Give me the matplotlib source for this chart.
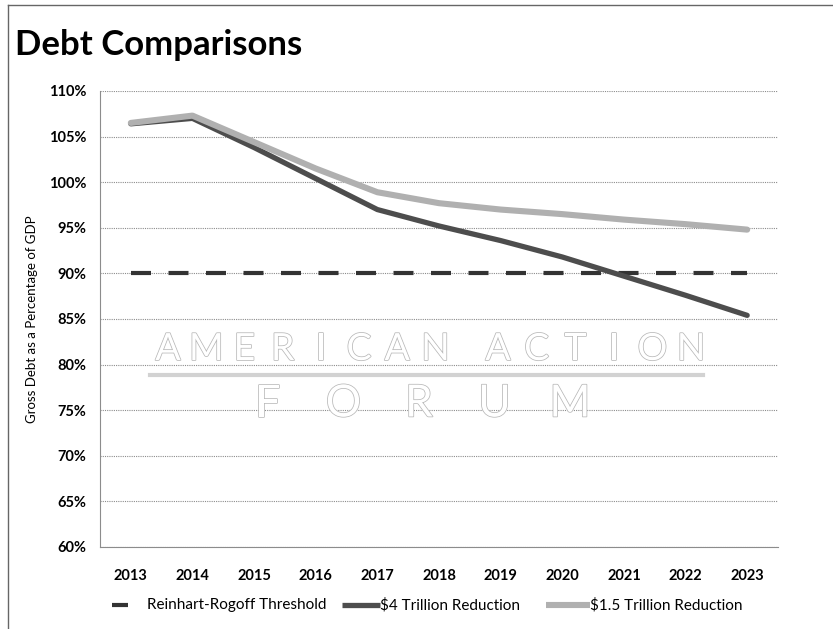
import matplotlib
matplotlib.use("Agg")
import matplotlib.pyplot as plt
from matplotlib.lines import Line2D
import matplotlib.patheffects as pe

plt.rcParams['font.family'] = ['Lato', 'DejaVu Sans']

# data
years = ['2013', '2014', '2015', '2016', '2017', '2018', '2019', '2020', '2021', '2022', '2023']
threshold = [90] * len(years)
cut_4t = [106.4, 107.0, 103.8, 100.4, 97.0, 95.2, 93.6, 91.8, 89.7, 87.6, 85.4]
cut_15t = [106.5, 107.3, 104.4, 101.5, 98.9, 97.7, 97.0, 96.5, 95.9, 95.4, 94.8]
yticks = [60, 65, 70, 75, 80, 85, 90, 95, 100, 105, 110]

W, H = 833, 629
fig = plt.figure(figsize=(W / 100, H / 100), dpi=100)
ax = fig.add_axes([100 / W, 1 - 547 / H, 678 / W, 456 / H])

x = list(range(len(years)))
ax.plot(x, threshold, color='#333333', lw=3.0, dashes=(4.8, 4.2), solid_capstyle='butt', zorder=3)
ax.plot(x, cut_4t, color='#4d4d4d', lw=3.8, solid_capstyle='round', zorder=4)
ax.plot(x, cut_15t, color='#b0b0b0', lw=4.4, solid_capstyle='round', zorder=5)

ax.set_xlim(-0.5, len(years) - 0.5)
ax.set_ylim(60, 110)
ax.set_yticks(yticks)
ax.set_yticklabels([f'{v}%' for v in yticks])
ax.set_xticks(x)
ax.set_xticklabels(years)
ax.tick_params(length=0, labelsize=10.5)
ax.tick_params(axis='y', pad=10)
ax.tick_params(axis='x', pad=16)
for lab in ax.get_xticklabels() + ax.get_yticklabels():
    lab.set_fontweight('bold')

ax.grid(axis='y', color='#8c8c8c', lw=0.8, ls=(0, (1, 1)))
for s in ['top', 'right']:
    ax.spines[s].set_visible(False)
for s in ['left', 'bottom']:
    ax.spines[s].set_color('#8c8c8c')
    ax.spines[s].set_linewidth(0.8)
    ax.spines[s].set_linestyle((0, (1, 1)))

ax.set_ylabel('Gross Debt as a Percentage of GDP', fontsize=9.5)
ax.yaxis.set_label_coords(-0.092, 0.5)

# title
fig.text(15 / W, 1 - 55 / H, 'Debt Comparisons', fontsize=25, fontweight='bold', va='baseline', ha='left')

# frame (left and top edges)
fig.add_artist(Line2D([8 / W, 8 / W], [0, 1 - 5 / H], color='#666666', lw=1.0))
fig.add_artist(Line2D([8 / W, 1], [1 - 5 / H, 1 - 5 / H], color='#666666', lw=1.0))

# watermark, letter by letter
def outlined(px, py, ch, size):
    fig.text(px / W, 1 - py / H, ch, color='white', fontsize=size, ha='center', va='center', zorder=1,
             path_effects=[pe.withStroke(linewidth=1.1, foreground='#b8b8b8')])

for i, ch in enumerate('AMERICAN'):
    outlined(168 + i * 38.2, 349, ch, 27)
for i, ch in enumerate('ACTION'):
    outlined(498 + i * 38.6, 349, ch, 27)
fig.add_artist(Line2D([150 / W, 703 / W], [1 - 375 / H, 1 - 375 / H], color='#d2d2d2', lw=3, zorder=1))
for i, ch in enumerate('FORUM'):
    outlined(268 + i * 75.5, 404, ch, 32)

# legend drawn by hand along the bottom
ly = 1 - 605 / H
fig.add_artist(Line2D([112 / W, 128 / W], [ly, ly], color='#333333', lw=3.0, solid_capstyle='butt'))
fig.text(147 / W, ly, 'Reinhart-Rogoff Threshold', fontsize=11, va='center', ha='left')
fig.add_artist(Line2D([342 / W, 380 / W], [ly, ly], color='#4d4d4d', lw=3.8, solid_capstyle='butt'))
fig.text(380 / W, ly, '$4 Trillion Reduction', fontsize=11, va='center', ha='left')
fig.add_artist(Line2D([546 / W, 590 / W], [ly, ly], color='#b0b0b0', lw=4.4, solid_capstyle='butt'))
fig.text(590 / W, ly, '$1.5 Trillion Reduction', fontsize=11, va='center', ha='left')

fig.savefig('out.png', dpi=100)
